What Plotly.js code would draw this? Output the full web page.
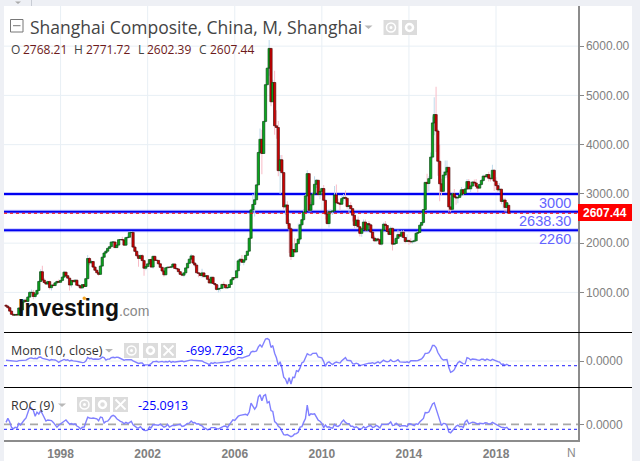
<!DOCTYPE html>
<html>
<head>
<meta charset="utf-8">
<title>Shanghai Composite</title>
<script src="https://cdn.plot.ly/plotly-3.0.1.min.js"></script>
<style>
  html, body { margin: 0; padding: 0; background: #fff; }
  #chart { width: 640px; height: 461px; }
</style>
</head>
<body>
<div id="chart"></div>
<script>
// monthly candles, first row has 4 months, the rest 12, last 10
const opens = [
  740,720,690,620,
  555,537,552,540,683,644,804,842,816,905,1000,1000,
  917,964,1040,1222,1420,1250,1200,1170,1220,1097,1150,1140,
  1194,1222,1206,1243,1310,1411,1339,1290,1150,1242,1217,1248,
  1146,1134,1090,1158,1120,1279,1689,1601,1627,1514,1450,1400,
  1366,1534,1714,1800,1836,1894,1928,2023,2024,1910,1961,2070,
  2073,2065,1959,2112,2119,2214,2218,1920,1834,1746,1690,1747,
  1646,1491,1525,1580,1667,1515,1732,1651,1650,1581,1509,1434,
  1358,1500,1511,1510,1521,1576,1487,1476,1421,1367,1349,1397,
  1497,1590,1675,1741,1595,1555,1399,1386,1342,1396,1320,1340,
  1266,1191,1306,1181,1159,1060,1080,1083,1162,1155,1092,1099,
  1161,1258,1299,1298,1440,1641,1672,1612,1658,1752,1837,2099,
  2675,2786,2881,3183,3841,4109,3820,4471,5218,5552,5954,4871,
  5262,4383,4348,3472,3693,3433,2736,2775,2397,2293,1728,1871,
  1820,1990,2082,2373,2477,2632,2959,3412,2667,2779,2996,3195,
  3277,2989,3051,3109,2870,2592,2398,2637,2638,2655,2979,2820,
  2808,2790,2905,2928,2911,2743,2762,2701,2567,2359,2468,2333,
  2199,2292,2428,2262,2396,2372,2225,2103,2047,2086,2068,1980,
  2269,2385,2359,2236,2177,2300,1979,1993,2098,2174,2141,2220,
  2115,2033,2056,2033,2026,2039,2048,2201,2217,2363,2420,2682,
  3234,3210,3310,3747,4441,4611,4277,3663,3205,3052,3382,3445,
  3539,2737,2687,3003,2938,2916,2929,2979,3085,3004,3100,3250,
  3103,3159,3241,3222,3154,3117,3192,3273,3360,3348,3393,3317,
  3307,3480,3259,3168,3082,3095,2847,2876,2725,2768.21
];
const highs = [
  760,735,700,630,
  565,560,570,700,700,820,860,880,930,1030,1060,1050,
  1000,1060,1240,1470,1540,1290,1240,1240,1240,1130,1180,1200,
  1240,1260,1260,1330,1440,1420,1350,1300,1260,1260,1270,1260,
  1170,1150,1170,1170,1300,1760,1720,1660,1640,1530,1460,1420,
  1560,1730,1815,1850,1910,1940,2040,2040,2030,1980,2080,2080,
  2130,2070,2130,2150,2230,2245,2220,1950,1850,1780,1770,1780,
  1670,1540,1600,1680,1690,1750,1750,1670,1660,1590,1520,1440,
  1510,1530,1530,1560,1590,1590,1500,1490,1430,1380,1400,1500,
  1600,1690,1780,1760,1610,1560,1400,1400,1480,1400,1350,1350,
  1270,1330,1330,1190,1160,1150,1090,1170,1220,1160,1110,1170,
  1265,1310,1310,1445,1680,1700,1760,1670,1760,1840,2110,2700,
  3000,3050,3200,3860,4330,4300,4480,5220,5570,6124,5900,5320,
  5500,4700,4480,3790,3790,3440,2950,2850,2480,2330,2000,2100,
  2000,2400,2420,2590,2690,3000,3480,3380,2830,3020,3360,3300,
  3280,3060,3130,3180,2880,2660,2680,2690,2670,3160,3190,2900,
  2850,2950,3000,3070,2920,2780,2830,2710,2580,2480,2540,2340,
  2300,2480,2480,2400,2450,2380,2240,2150,2100,2110,2080,2280,
  2420,2450,2370,2270,2340,2320,2090,2150,2270,2250,2260,2260,
  2120,2180,2060,2100,2060,2090,2210,2250,2390,2430,2690,3240,
  3410,3360,3840,4570,4960,5178,4320,4000,3310,3460,3680,3680,
  3540,2930,3020,3100,2950,2960,3070,3140,3100,3110,3300,3300,
  3180,3260,3290,3300,3170,3200,3300,3390,3390,3400,3450,3340,
  3590,3500,3340,3220,3220,3110,2920,2920,2830,2771.72
];
const lows = [
  700,670,600,540,
  525,525,525,535,635,640,795,800,800,895,960,860,
  880,950,1030,1210,1240,1190,1150,1140,1060,1040,1120,1120,
  1180,1190,1190,1240,1300,1320,1270,1040,1100,1200,1200,1130,
  1100,1080,1090,1100,1110,1270,1550,1570,1500,1440,1380,1340,
  1360,1530,1700,1790,1830,1885,1920,2010,1900,1900,1950,2060,
  2050,1950,1955,2100,2110,2205,1910,1820,1720,1520,1680,1630,
  1340,1450,1520,1560,1500,1480,1640,1640,1560,1490,1400,1320,
  1350,1490,1490,1490,1510,1480,1470,1410,1360,1330,1310,1390,
  1490,1580,1670,1590,1510,1390,1310,1330,1300,1310,1310,1260,
  1180,1180,1170,1130,1040,1000,1020,1070,1140,1080,1070,1090,
  1160,1250,1280,1290,1430,1540,1600,1550,1650,1750,1830,2090,
  2600,2540,2880,3180,3800,3400,3820,4450,5200,5400,4780,4900,
  4200,4120,3360,3000,3400,2690,2570,2350,1800,1660,1720,1810,
  1850,1980,2040,2340,2450,2630,2960,2640,2640,2770,2990,3120,
  2950,2890,2990,2860,2480,2380,2320,2580,2570,2650,2800,2790,
  2660,2780,2850,2870,2700,2610,2680,2440,2300,2310,2320,2135,
  2130,2280,2240,2240,2310,2210,2090,2030,2030,2030,1960,1950,
  2260,2270,2220,2160,2170,1850,1960,1985,2080,2130,2110,2110,
  2000,2020,1970,1990,1990,2010,2040,2180,2210,2340,2390,2670,
  3040,3050,3300,3720,4190,3850,3370,2850,2980,3040,3320,3330,
  2640,2640,2680,2920,2780,2810,2930,2950,2970,3000,3090,3090,
  3040,3150,3190,3100,3020,3110,3170,3240,3320,3330,3250,3250,
  3300,3060,3090,3040,3040,2790,2700,2640,2640,2602.39
];
const closes = [
  720,690,620,555,
  537,552,540,683,644,804,842,816,905,1000,1000,917,
  964,1040,1222,1420,1250,1200,1170,1220,1097,1150,1140,1194,
  1222,1206,1243,1310,1411,1339,1290,1150,1242,1217,1248,1146,
  1134,1090,1158,1120,1279,1689,1601,1627,1514,1450,1400,1366,
  1534,1714,1800,1836,1894,1928,2023,2024,1910,1961,2070,2073,
  2065,1959,2112,2119,2214,2218,1920,1834,1746,1690,1747,1646,
  1491,1525,1580,1667,1515,1732,1651,1650,1581,1509,1434,1358,
  1500,1511,1510,1521,1576,1487,1476,1421,1367,1349,1397,1497,
  1590,1675,1741,1595,1555,1399,1386,1342,1396,1320,1340,1266,
  1191,1306,1181,1159,1060,1080,1083,1162,1155,1092,1099,1161,
  1258,1299,1298,1440,1641,1672,1612,1658,1752,1837,2099,2675,
  2786,2881,3183,3841,4109,3820,4471,5218,5552,5954,4871,5262,
  4383,4348,3472,3693,3433,2736,2775,2397,2293,1728,1871,1820,
  1990,2082,2373,2477,2632,2959,3412,2667,2779,2996,3195,3277,
  2989,3051,3109,2870,2592,2398,2637,2638,2655,2979,2820,2808,
  2790,2905,2928,2911,2743,2762,2701,2567,2359,2468,2333,2199,
  2292,2428,2262,2396,2372,2225,2103,2047,2086,2068,1980,2269,
  2385,2359,2236,2177,2300,1979,1993,2098,2174,2141,2220,2115,
  2033,2056,2033,2026,2039,2048,2201,2217,2363,2420,2682,3234,
  3210,3310,3747,4441,4611,4277,3663,3205,3052,3382,3445,3539,
  2737,2687,3003,2938,2916,2929,2979,3085,3004,3100,3250,3103,
  3159,3241,3222,3154,3117,3192,3273,3360,3348,3393,3317,3307,
  3480,3259,3168,3082,3095,2847,2876,2725,2821,2607.44
];
const momValues = [
  120,100,60,40,
  -50,-40,-60,60,50,150,122,126,285,445,463,365,
  424,357,578,616,408,384,265,220,97,233,176,154,
  0,-214,-7,110,241,119,193,0,102,23,26,-60,
  -109,-220,-253,-219,-11,539,359,410,266,304,266,276,
  376,594,521,147,293,301,509,574,510,595,536,359,
  265,123,218,191,191,194,10,-127,-324,-383,-318,-313,
  -621,-594,-634,-551,-405,-102,-95,-40,-166,-137,-57,-167,
  -80,-156,-5,-211,-75,-163,-105,-88,-67,-9,-103,-14,
  80,154,165,108,79,-22,19,-7,-1,-177,-250,-409,
  -550,-289,-374,-240,-326,-262,-313,-158,-185,-174,-92,-145,
  77,140,238,360,558,510,457,566,653,676,841,1376,
  1488,1441,1542,2169,2497,2162,2719,3381,3453,3279,2085,2381,
  1200,507,-637,-127,-1038,-2482,-2777,-3557,-2578,-3534,-2512,-2528,
  -1482,-1611,-1060,-259,-143,562,1119,939,908,1176,1205,1195,
  616,574,477,-89,-820,-269,-142,-358,-540,-298,-169,-243,
  -319,35,336,513,106,124,46,-412,-461,-340,-457,-706,
  -636,-483,-481,-366,-329,-342,-256,-421,-247,-131,-312,-159,
  123,-37,-136,-48,197,-68,-93,30,194,-128,-165,-244,
  -203,-121,-267,47,46,-50,27,76,143,305,649,1178,
  1177,1284,1708,2393,2410,2060,1300,785,370,148,235,229,
  -1010,-1754,-1608,-1339,-747,-276,-73,-297,-441,-439,513,416,
  156,303,306,225,138,107,269,260,98,290,158,66,
  258,105,51,-110,-178,-513,-472,-668,-496,-699.73
];
const rocValues = [
  10,30,12,-15,
  -22,-14,-18,5,-3,12,22,32,63,86,81,70,
  41,61,52,69,53,33,17,22,20,19,10,-2,
  -14,-4,4,12,16,22,12,1,4,0,3,-8,
  -13,-23,-14,-13,11,36,32,30,32,28,28,18,
  37,34,7,15,16,27,40,45,40,28,21,15,
  12,3,10,5,9,16,-2,-11,-16,-18,-11,-22,
  -30,-31,-29,-13,-17,-1,-2,-6,-4,1,-6,-14,
  -10,0,-13,-8,-4,-6,-2,-1,1,-10,-8,-1,
  5,6,17,8,9,2,3,-4,-7,-17,-20,-27,
  -25,-16,-16,-16,-21,-23,-18,-13,-9,-8,-16,-2,
  9,23,20,33,41,45,48,51,51,46,62,106,
  93,76,90,138,148,118,143,149,108,114,69,65,
  14,6,-9,-17,-34,-51,-53,-51,-56,-61,-57,-48,
  -46,-39,-13,-11,10,29,97,43,53,51,53,38,
  21,16,5,-16,-3,-14,-12,-17,-19,0,-8,-10,
  -3,12,22,10,4,4,-9,-9,-16,-12,-20,-25,
  -21,-11,-18,-11,-8,-6,-15,-12,-5,-10,-18,0,
  0,-1,0,4,12,-5,-4,6,-4,-10,-6,-5,
  -7,-11,3,2,-3,-6,3,0,12,19,30,59,
  58,62,83,102,108,81,51,20,-6,5,4,-6,
  -38,-42,-30,-20,-9,-4,-12,-10,-15,13,21,3,
  8,11,10,6,1,6,6,3,8,7,2,3,
  10,5,-1,-6,-8,-15,-15,-18,-15,-25.09
];
const yearTicks = ['1998-01-01','2002-01-01','2006-01-01','2010-01-01','2014-01-01','2018-01-01'];
const yearLabels = ['1998','2002','2006','2010','2014','2018'];
const priceTicks = [1000,2000,3000,4000,5000,6000];
const priceLabels = ['1000.00','2000.00','3000.00','4000.00','5000.00','6000.00'];
const levels = [3000,2638.30,2260];
const levelLabels = ['3000','2638.30','2260'];
const lastClose = 2607.44;
const momLast = -699.7263;
const rocLast = -25.0913;

const dates = [];
for (let i = 0; i < closes.length; i++) {
  const y = 1995 + Math.floor((6 + i) / 12);
  const m = (6 + i) % 12 + 1;
  dates.push(y + '-' + String(m).padStart(2, '0') + '-01');
}

// pixel helpers, the figure has no margins so paper == window
const px = (x) => x / 640;
const py = (y) => 1 - y / 461;
const W = 640, H = 461;
const DAY = 86400000;
const GRID = '#e8eff5';
const AXIS_FONT = 'Liberation Sans, Arial, sans-serif';
const UI_FONT = 'Open Sans, sans-serif';

const isUp = closes.map((c, i) => c >= opens[i]);

// candlestick trace cant get wide enough at this zoom, so stacked bars:
// pale wicks underneath, outlined bodies on top
const wicks = {
  type: 'bar', x: dates, base: lows, y: highs.map((h, i) => h - lows[i]),
  width: 16 * DAY,
  marker: { color: isUp.map((u) => (u ? '#bcd8ea' : '#f8b8c4')), line: { width: 0 } },
  showlegend: false, xaxis: 'x', yaxis: 'y',
};
const bodies = {
  type: 'bar', x: dates, base: opens, y: closes.map((c, i) => c - opens[i]),
  width: 38 * DAY,
  marker: {
    color: isUp.map((u) => (u ? '#08a81c' : '#d40000')),
    line: { color: isUp.map((u) => (u ? '#0b4a14' : '#4e0a0a')), width: 0.7 },
  },
  showlegend: false, xaxis: 'x', yaxis: 'y',
};
const momLine = {
  type: 'scatter', mode: 'lines', x: dates, y: momValues,
  line: { color: '#8080ff', width: 1.4 }, showlegend: false, xaxis: 'x', yaxis: 'y2',
};
const rocLine = {
  type: 'scatter', mode: 'lines', x: dates, y: rocValues,
  line: { color: '#8080ff', width: 1.4 }, showlegend: false, xaxis: 'x', yaxis: 'y3',
};

const shapes = [];
const band = (x0, y0, x1, y1, color) => shapes.push({
  type: 'rect', xref: 'paper', yref: 'paper', layer: 'below',
  x0: px(x0), x1: px(x1), y0: py(y0), y1: py(y1),
  fillcolor: color, line: { width: 0 },
});
band(0, 0, 640, 6, '#eef0f5');
band(0, 0, 4, 461, '#eef0f5');
band(632, 0, 640, 461, '#eef0f5');
shapes.push({ type: 'line', xref: 'paper', yref: 'paper', x0: px(31.5), x1: px(31.5), y0: py(0), y1: py(6), line: { color: '#c8ccd4', width: 1 } });
shapes.push({ type: 'path', xref: 'paper', yref: 'paper', path: `M${px(15)},${py(1.5)} L${px(21)},${py(1.5)} L${px(18)},${py(4)} Z`, fillcolor: '#aaa', line: { width: 0 } });

// grid as shapes so the level lines can sit on top of it
yearTicks.forEach((d) => {
  shapes.push({ type: 'line', xref: 'x', yref: 'paper', x0: d, x1: d, y0: py(440), y1: py(6), layer: 'below', line: { color: GRID, width: 1 } });
});
priceTicks.forEach((v) => {
  shapes.push({ type: 'line', xref: 'x domain', yref: 'y', x0: 0, x1: 1, y0: v, y1: v, layer: 'below', line: { color: GRID, width: 1 } });
});
shapes.push({ type: 'line', xref: 'x domain', yref: 'y2', x0: 0, x1: 1, y0: 0, y1: 0, layer: 'below', line: { color: GRID, width: 1 } });

levels.forEach((lv) => {
  shapes.push({ type: 'line', xref: 'x domain', yref: 'y', x0: 0, x1: 1, y0: lv, y1: lv, layer: 'below', line: { color: 'rgba(0,0,255,0.22)', width: 4 } });
  shapes.push({ type: 'line', xref: 'x domain', yref: 'y', x0: 0, x1: 1, y0: lv, y1: lv, layer: 'below', line: { color: '#0000f0', width: 2 } });
});
shapes.push({ type: 'line', xref: 'x domain', yref: 'y', x0: 0, x1: 1, y0: lastClose, y1: lastClose, line: { color: '#ff0000', width: 1.2, dash: 'dot' } });
shapes.push({ type: 'line', xref: 'x domain', yref: 'y2', x0: 0, x1: 1, y0: momLast, y1: momLast, line: { color: '#4a4aff', width: 1.2, dash: 'dot' } });
shapes.push({ type: 'line', xref: 'x domain', yref: 'y3', x0: 0, x1: 1, y0: rocLast, y1: rocLast, line: { color: '#4a4aff', width: 1.2, dash: 'dot' } });
shapes.push({ type: 'line', xref: 'x domain', yref: 'y3', x0: 0, x1: 1, y0: 0, y1: 0, layer: 'below', line: { color: '#a8a8a8', width: 1.6, dash: '8px,5px' } });

// panel separators and last price box
[332.5, 387.5].forEach((y) => {
  shapes.push({ type: 'line', xref: 'paper', yref: 'paper', x0: px(4), x1: px(632), y0: py(y), y1: py(y), line: { color: '#000', width: 1.2 } });
});
shapes.push({ type: 'rect', xref: 'paper', yref: 'paper', x0: px(578), x1: px(632), y0: py(204), y1: py(221), fillcolor: '#ff0000', line: { width: 0 } });

// collapse square next to the title
shapes.push({ type: 'rect', xref: 'paper', yref: 'paper', x0: px(10.5), x1: px(23), y0: py(19.5), y1: py(32), line: { color: '#777', width: 1 } });
shapes.push({ type: 'line', xref: 'paper', yref: 'paper', x0: px(13), x1: px(20.5), y0: py(25.7), y1: py(25.7), line: { color: '#777', width: 1 } });

// toolbars: grey squares with white glyphs
const addButton = (x, y, kind) => {
  shapes.push({ type: 'rect', xref: 'paper', yref: 'paper', x0: px(x), x1: px(x + 15), y0: py(y), y1: py(y + 15), fillcolor: '#dcdcdc', line: { width: 0 } });
  if (kind === 'eye') {
    shapes.push({ type: 'circle', xref: 'paper', yref: 'paper', x0: px(x + 3), x1: px(x + 12), y0: py(y + 3), y1: py(y + 12), line: { color: '#fff', width: 1.5 } });
    shapes.push({ type: 'circle', xref: 'paper', yref: 'paper', x0: px(x + 6), x1: px(x + 9), y0: py(y + 6), y1: py(y + 9), fillcolor: '#fff', line: { width: 0 } });
  } else if (kind === 'gear') {
    shapes.push({ type: 'circle', xref: 'paper', yref: 'paper', x0: px(x + 4), x1: px(x + 11), y0: py(y + 4), y1: py(y + 11), line: { color: '#fff', width: 2.5 } });
  } else {
    shapes.push({ type: 'line', xref: 'paper', yref: 'paper', x0: px(x + 2.5), x1: px(x + 12.5), y0: py(y + 2.5), y1: py(y + 12.5), line: { color: '#fff', width: 1.8 } });
    shapes.push({ type: 'line', xref: 'paper', yref: 'paper', x0: px(x + 12.5), x1: px(x + 2.5), y0: py(y + 2.5), y1: py(y + 12.5), line: { color: '#fff', width: 1.8 } });
  }
};
addButton(383.5, 20, 'eye'); addButton(402, 20, 'gear');
addButton(124, 343, 'eye'); addButton(143, 343, 'gear'); addButton(161, 343, 'close');
addButton(77, 397, 'eye'); addButton(95, 397, 'gear'); addButton(113, 397, 'close');

const arrow = (x, y) => shapes.push({
  type: 'path', xref: 'paper', yref: 'paper',
  path: `M${px(x - 4)},${py(y - 1.5)} L${px(x + 4)},${py(y - 1.5)} L${px(x)},${py(y + 2)} Z`,
  fillcolor: '#b8b8b8', line: { width: 0 },
});
arrow(368.5, 27); arrow(109, 350.5); arrow(62, 405);

const annotations = [];
const label = (text, x, y, size, color, anchor, family, extra) => annotations.push(Object.assign({
  text, xref: 'paper', yref: 'paper', x: px(x), y: py(y), xanchor: anchor || 'left', yanchor: 'middle',
  showarrow: false, borderpad: 0, font: { family: family || UI_FONT, size, color },
}, extra || {}));

label('Shanghai Composite, China, M, Shanghai', 29, 27, 17.5, '#444');
const ohlcNames = ['O', 'H', 'L', 'C'];
const ohlcValues = ['2768.21', '2771.72', '2602.39', '2607.44'];
const ohlcNameX = [10, 73, 137, 198];
const ohlcValueX = [22, 85, 146, 209];
ohlcNames.forEach((n, i) => {
  label(n, ohlcNameX[i], 49.5, 12, '#444');
  label(ohlcValues[i], ohlcValueX[i], 49.5, 12, '#6e1a1a');
});
label('Mom (10, close)', 9.5, 350, 12.5, '#333');
label(momLast.toFixed(4), 185, 350, 12.5, '#0000ff');
label('ROC (9)', 9.5, 405, 12.5, '#333');
label(rocLast.toFixed(4), 137, 405, 12.5, '#0000ff');

levels.forEach((lv, i) => {
  annotations.push({
    text: levelLabels[i], xref: 'paper', yref: 'y', x: px(572), y: lv, yshift: -9,
    xanchor: 'right', yanchor: 'middle', showarrow: false, borderpad: 0,
    font: { family: AXIS_FONT, size: 14.5, color: '#6464ff' },
  });
});
label(lastClose.toFixed(2), 605, 212.5, 12, '#fff', 'center', AXIS_FONT, { font: { family: AXIS_FONT, size: 12, color: '#fff', weight: 'bold' } });
label('N', 571, 453, 12, '#8a8a8a', 'center', AXIS_FONT);

// watermark
label('<b>Investing</b><span style="color:#888;font-size:14px">.com</span>', 17, 308, 23, '#111', 'left', AXIS_FONT);
shapes.push({ type: 'circle', xref: 'paper', yref: 'paper', x0: px(82.5), x1: px(86), y0: py(296.5), y1: py(300), fillcolor: '#f5a623', line: { width: 0 } });

const yCommon = {
  anchor: 'x', side: 'right', ticks: 'outside', ticklen: 4, tickcolor: '#888', tickwidth: 1,
  showline: true, linecolor: '#8c8c8c', linewidth: 1.5, showgrid: false, zeroline: false,
  tickfont: { family: AXIS_FONT, size: 12, color: '#808080' }, tickmode: 'array', fixedrange: true,
};

const layout = {
  width: W, height: H, autosize: false,
  margin: { l: 0, r: 0, t: 0, b: 0, pad: 0 },
  paper_bgcolor: '#fff', plot_bgcolor: 'rgba(0,0,0,0)',
  showlegend: false, barmode: 'overlay', hovermode: false,
  xaxis: {
    type: 'date', domain: [px(4), px(578)], anchor: 'y3',
    range: ['1995-05-28', '2021-10-07'],
    tickmode: 'array', tickvals: yearTicks, ticktext: yearLabels,
    ticks: 'outside', ticklen: 2, tickcolor: 'rgba(0,0,0,0)',
    showgrid: false, showline: true, linecolor: '#8c8c8c', linewidth: 1.5,
    tickfont: { family: AXIS_FONT, size: 12, color: '#808080', weight: 'bold' },
  },
  yaxis: Object.assign({}, yCommon, {
    domain: [py(332), py(6)], range: [196, 6815],
    tickvals: priceTicks, ticktext: priceLabels,
  }),
  yaxis2: Object.assign({}, yCommon, {
    domain: [py(387), py(332)], range: [-4004, 4466],
    tickvals: [0], ticktext: ['0.0000'],
  }),
  yaxis3: Object.assign({}, yCommon, {
    domain: [py(440), py(387)], range: [-78, 187],
    tickvals: [0], ticktext: ['0.0000'],
  }),
  shapes, annotations,
};

Plotly.newPlot('chart', [wicks, bodies, momLine, rocLine], layout, { displayModeBar: false, staticPlot: true });
</script>
</body>
</html>
